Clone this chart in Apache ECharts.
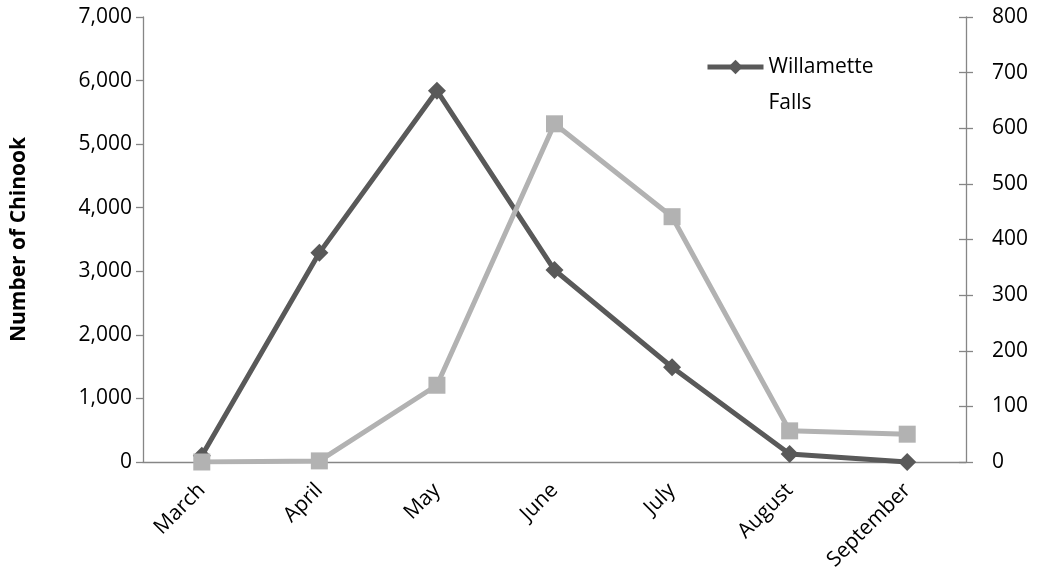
<!DOCTYPE html>
<html>
<head>
<meta charset="utf-8">
<style>
  html, body { margin: 0; padding: 0; background: #fff; }
  #main { width: 1038px; height: 582px; }
</style>
<script src="https://cdn.jsdelivr.net/npm/echarts@6/dist/echarts.min.js"></script>
</head>
<body>
<div id="main"></div>
<script>
// chart data
const months = ['March', 'April', 'May', 'June', 'July', 'August', 'September']
const willametteFalls = [100, 3290, 5840, 3020, 1490, 125, 0]
const secondSeries = [0, 2, 138, 608, 441, 56, 50]
const leftTicks = { min: 0, max: 7000, interval: 1000 }
const rightTicks = { min: 0, max: 800, interval: 100 }

const font = '"Open Sans", "Noto Sans", sans-serif'
const axisGray = '#868686'

const chart = echarts.init(document.getElementById('main'), null, { renderer: 'canvas' })

const option = {
  animation: false,
  backgroundColor: '#fff',
  grid: { left: 143, right: 72, top: 17, bottom: 120 },
  legend: {
    data: ['Willamette Falls'],
    left: 700,
    top: 8,
    itemWidth: 56,
    itemHeight: 18,
    itemGap: 4,
    lineStyle: { width: 5 },
    formatter: function () {
      return ' \nWillamette\nFalls'
    },
    textStyle: { fontFamily: font, fontSize: 21, color: '#000', lineHeight: 36 }
  },
  xAxis: {
    type: 'category',
    data: months,
    boundaryGap: true,
    axisLine: { lineStyle: { color: axisGray, width: 1.3 } },
    axisTick: { length: 7, lineStyle: { color: axisGray, width: 1.3 } },
    axisLabel: { rotate: 45, fontFamily: font, fontSize: 21, color: '#000', margin: 25 }
  },
  yAxis: [
    {
      type: 'value',
      position: 'left',
      min: leftTicks.min,
      max: leftTicks.max,
      interval: leftTicks.interval,
      name: 'Number of Chinook',
      nameLocation: 'middle',
      nameGap: 113,
      nameTextStyle: { fontFamily: font, fontSize: 21, fontWeight: 'bold', color: '#000' },
      splitLine: { show: false },
      axisLine: { show: true, lineStyle: { color: axisGray, width: 1.3 } },
      axisTick: { show: true, length: 7, lineStyle: { color: axisGray, width: 1.3 } },
      axisLabel: {
        fontFamily: font, fontSize: 21, color: '#000', margin: 11,
        formatter: v => v.toLocaleString('en-US')
      }
    },
    {
      type: 'value',
      position: 'right',
      min: rightTicks.min,
      max: rightTicks.max,
      interval: rightTicks.interval,
      splitLine: { show: false },
      axisLine: { show: true, lineStyle: { color: axisGray, width: 1.3 } },
      axisTick: { show: true, length: 7, lineStyle: { color: axisGray, width: 1.3 } },
      axisLabel: { fontFamily: font, fontSize: 21, color: '#000', margin: 26 }
    },
    {
      // inner half of the crossing ticks on the right axis
      type: 'value',
      position: 'right',
      min: rightTicks.min,
      max: rightTicks.max,
      interval: rightTicks.interval,
      splitLine: { show: false },
      axisLine: { show: false },
      axisTick: { show: true, inside: true, length: 7, lineStyle: { color: axisGray, width: 1.3 } },
      axisLabel: { show: false }
    }
  ],
  series: [
    {
      name: 'Willamette Falls',
      type: 'line',
      yAxisIndex: 0,
      data: willametteFalls,
      symbol: 'diamond',
      symbolSize: 18,
      lineStyle: { color: '#595959', width: 5 },
      itemStyle: { color: '#595959' }
    },
    {
      name: 'Series 2',
      type: 'line',
      yAxisIndex: 1,
      data: secondSeries,
      symbol: 'rect',
      symbolSize: 17,
      lineStyle: { color: '#b2b2b2', width: 5 },
      itemStyle: { color: '#b2b2b2' }
    }
  ]
}

if (option && typeof option === 'object') {
  chart.setOption(option)
}
</script>
</body>
</html>
